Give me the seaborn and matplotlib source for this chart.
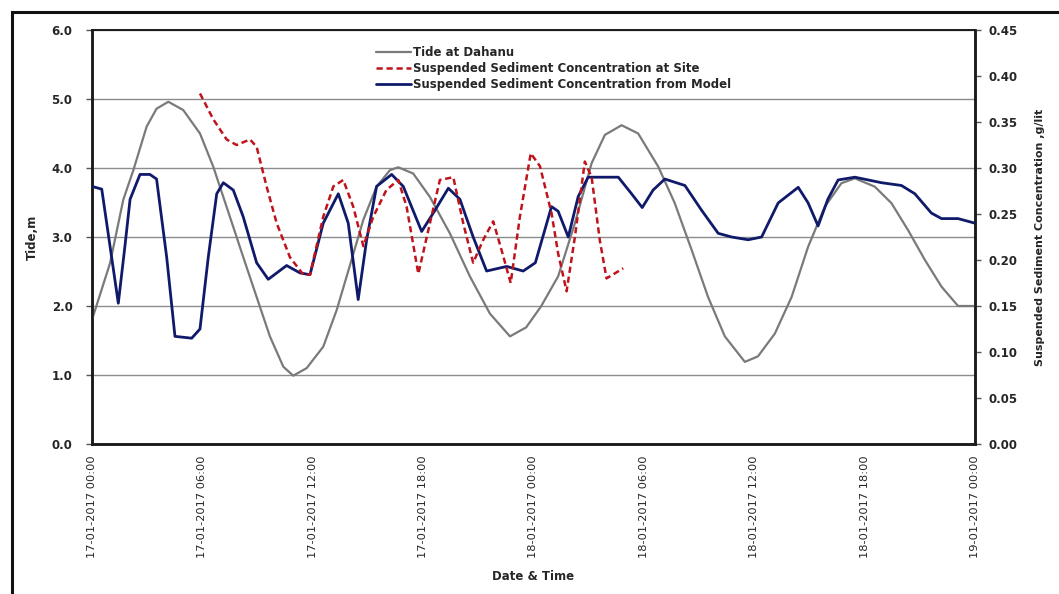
import matplotlib
matplotlib.use("Agg")
import matplotlib.pyplot as plt
import matplotlib.dates as mdates
from matplotlib.lines import Line2D
from matplotlib.patches import Rectangle
import pandas as pd
import seaborn as sns

# ---- data -------------------------------------------------------------
start = pd.Timestamp("2017-01-17 00:00")

tide_hours = [0, 0.98, 1.70, 2.25, 2.97, 3.51, 4.15, 4.96, 5.87, 6.59, 7.5, 8.22,
              8.95, 9.67, 10.4, 10.94, 11.67, 12.57, 13.3, 14.0, 14.75, 15.47,
              16.2, 16.65, 17.46, 18.37, 19.46, 20.54, 21.63, 22.72, 23.6, 24.4,
              25.34, 26.25, 27.16, 27.88, 28.79, 29.69, 30.78, 31.68, 32.6, 33.49,
              34.4, 35.49, 36.2, 37.12, 38.03, 38.93, 39.84, 40.74, 41.47, 42.55,
              43.46, 44.36, 45.27, 46.18, 47.08, 48.0]
tide_m = [1.80, 2.62, 3.54, 3.97, 4.60, 4.86, 4.96, 4.84, 4.50, 4.02, 3.29, 2.71,
          2.13, 1.56, 1.12, 0.99, 1.10, 1.41, 1.94, 2.57, 3.25, 3.73,
          3.97, 4.01, 3.92, 3.58, 3.05, 2.43, 1.89, 1.56, 1.69, 1.99,
          2.43, 3.20, 4.07, 4.48, 4.62, 4.50, 4.02, 3.49, 2.81, 2.13,
          1.56, 1.19, 1.27, 1.60, 2.13, 2.86, 3.44, 3.78, 3.85, 3.73,
          3.49, 3.10, 2.67, 2.28, 2.00, 2.00]

site_hours = [5.87, 6.59, 7.32, 7.86, 8.59, 8.95, 9.49, 10.04, 10.76, 11.49, 11.85,
              12.57, 13.12, 13.66, 14.2, 14.75, 15.29, 16.0, 16.65, 17.1, 17.74,
              18.37, 18.91, 19.64, 20.18, 20.72, 21.27, 21.81, 22.26, 22.76,
              23.26, 23.85, 24.35, 24.98, 25.34, 25.8, 26.25, 26.79, 27.16, 27.6,
              27.97, 28.88]
site_ssc = [0.381, 0.353, 0.331, 0.325, 0.331, 0.323, 0.280, 0.240, 0.203, 0.184,
            0.184, 0.247, 0.280, 0.287, 0.258, 0.215, 0.247, 0.276, 0.287, 0.258,
            0.185, 0.240, 0.287, 0.290, 0.240, 0.197, 0.222, 0.242, 0.211, 0.175,
            0.247, 0.316, 0.302, 0.251, 0.207, 0.166, 0.225, 0.307, 0.290, 0.222,
            0.180, 0.191]

model_hours = [0, 0.53, 0.98, 1.43, 1.79, 2.07, 2.61, 3.15, 3.51, 4.06, 4.51, 5.42,
               5.87, 6.32, 6.78, 7.14, 7.68, 8.22, 8.95, 9.58, 10.58, 11.3, 11.85,
               12.57, 13.39, 13.93, 14.47, 14.93, 15.47, 16.29, 16.92, 17.92,
               18.55, 19.37, 20.0, 20.72, 21.45, 22.54, 23.44, 24.1, 24.98, 25.34,
               25.89, 26.43, 26.97, 28.61, 29.33, 29.91, 30.5, 31.14, 32.23,
               33.14, 34.04, 34.77, 35.67, 36.4, 37.3, 38.39, 38.93, 39.47, 40.0,
               40.56, 41.47, 42.92, 44.0, 44.73, 45.63, 46.18, 47.08, 48.0]
model_ssc = [0.280, 0.277, 0.215, 0.153, 0.215, 0.266, 0.293, 0.293, 0.288, 0.203,
             0.117, 0.115, 0.125, 0.203, 0.272, 0.284, 0.276, 0.247, 0.197, 0.179,
             0.194, 0.186, 0.184, 0.240, 0.272, 0.240, 0.157, 0.222, 0.280, 0.293,
             0.280, 0.231, 0.251, 0.278, 0.266, 0.225, 0.188, 0.193, 0.188, 0.197,
             0.258, 0.253, 0.225, 0.269, 0.290, 0.290, 0.272, 0.257, 0.276, 0.288,
             0.281, 0.254, 0.229, 0.225, 0.222, 0.225, 0.262, 0.279, 0.262, 0.237,
             0.266, 0.287, 0.290, 0.284, 0.281, 0.272, 0.251, 0.245, 0.245, 0.240]

series_labels = ["Tide at Dahanu",
                 "Suspended Sediment Concentration at Site",
                 "Suspended Sediment Concentration from Model"]
tide_ticks = [0.0, 1.0, 2.0, 3.0, 4.0, 5.0, 6.0]
ssc_ticks = [0.00, 0.05, 0.10, 0.15, 0.20, 0.25, 0.30, 0.35, 0.40, 0.45]
tick_step_hours = 6

# ---- frames -----------------------------------------------------------
def to_frame(hours, values):
    return pd.DataFrame({"time": start + pd.to_timedelta(hours, unit="h"),
                         "value": values})

tide_df = to_frame(tide_hours, tide_m)
site_df = to_frame(site_hours, site_ssc)
model_df = to_frame(model_hours, model_ssc)

# ---- style ------------------------------------------------------------
sns.set_theme(style="white")
plt.rcParams["font.family"] = ["DejaVu Sans"]
plt.rcParams["font.weight"] = "bold"

c_tide = "#7a7a7a"
c_site = "#c0141c"
c_model = "#0f1a6b"
site_dash = (0, (2.5, 1.5))

fig = plt.figure(figsize=(10.59, 5.94), dpi=100)
ax = fig.add_axes([92 / 1059, 1 - 444 / 594, 883 / 1059, 414 / 594])
ax2 = ax.twinx()

sns.lineplot(data=tide_df, x="time", y="value", ax=ax, color=c_tide,
             linewidth=1.6, zorder=3)
sns.lineplot(data=model_df, x="time", y="value", ax=ax2, color=c_model,
             linewidth=2.0, zorder=4)
sns.lineplot(data=site_df, x="time", y="value", ax=ax2, color=c_site,
             linewidth=1.8, linestyle=site_dash, zorder=5)

# ---- axes -------------------------------------------------------------
ax.set_xlim(start, start + pd.Timedelta(hours=48))
ax.set_ylim(tide_ticks[0], tide_ticks[-1])
ax.set_yticks(tide_ticks)
ax.set_yticklabels([f"{v:.1f}" for v in tide_ticks])
ax2.set_ylim(ssc_ticks[0], ssc_ticks[-1])
ax2.set_yticks(ssc_ticks)
ax2.set_yticklabels([f"{v:.2f}" for v in ssc_ticks])

ax.xaxis.set_major_locator(mdates.HourLocator(byhour=range(0, 24, tick_step_hours)))
ax.xaxis.set_major_formatter(mdates.DateFormatter("%d-%m-%Y %H:%M"))

ax.grid(axis="y", color="#8c8c8c", linewidth=1.0)
ax.grid(axis="x", visible=False)
ax2.grid(False)
ax.set_axisbelow(True)

for a in (ax, ax2):
    for side, sp in a.spines.items():
        sp.set_color("#1a1a1a")
        sp.set_linewidth(1.8 if side != "top" else 1.2)

ax.tick_params(axis="x", direction="out", length=4, width=1, color="#555555",
               labelsize=8.2, pad=4, labelrotation=90)
ax.tick_params(axis="y", direction="out", length=4, width=1, color="#555555",
               labelsize=8.5, pad=10)
ax2.tick_params(axis="y", direction="out", length=4, width=1, color="#555555",
                labelsize=8.5, pad=6)
for lbl in ax.get_xticklabels():
    lbl.set_fontweight("normal")

ax.set_xlabel("Date & Time", fontsize=8.5, fontweight="bold", labelpad=9)
ax.set_ylabel("Tide,m", fontsize=8.5, fontweight="bold", labelpad=9)
ax2.set_ylabel("Suspended Sediment Concentration ,g/lit", fontsize=8,
               fontweight="bold", labelpad=12)

handles = [Line2D([], [], color=c_tide, linewidth=1.6),
           Line2D([], [], color=c_site, linewidth=1.8, linestyle=site_dash),
           Line2D([], [], color=c_model, linewidth=2.0)]
leg = ax2.legend(handles, series_labels, loc="upper left",
                 bbox_to_anchor=(0.315, 0.975), frameon=False, fontsize=8.5,
                 handlelength=3.0, handletextpad=0.1, labelspacing=0.25,
                 borderpad=0)
for t in leg.get_texts():
    t.set_fontweight("bold")

# outer frame around the figure
fig.add_artist(Rectangle((12 / 1059, -0.05), 1.2, 1 - 12 / 594 + 0.05,
                         transform=fig.transFigure, fill=False,
                         edgecolor="#111111", linewidth=2.2))

fig.savefig("out.png", dpi=100, facecolor="white")
